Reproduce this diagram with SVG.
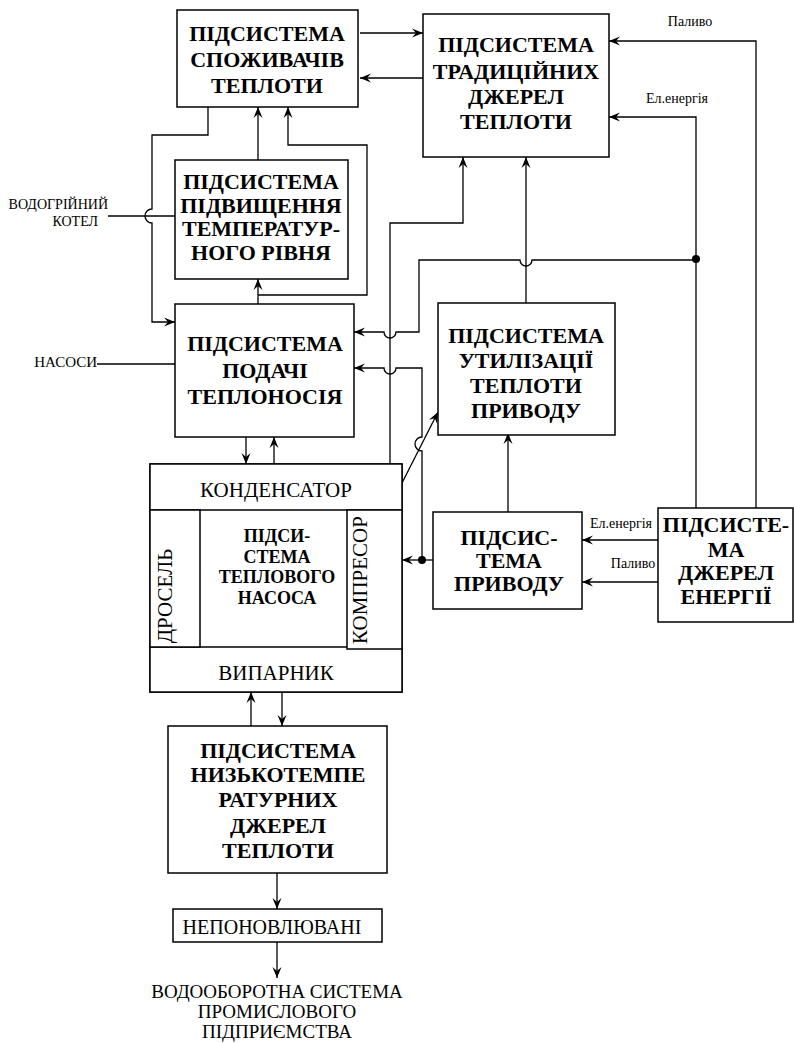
<svg xmlns="http://www.w3.org/2000/svg" width="794" height="1043" viewBox="0 0 794 1043" lang="uk">
<defs>
<marker id="ah" markerUnits="userSpaceOnUse" markerWidth="14" markerHeight="12" viewBox="-12 -6 14 12" refX="0" refY="0" orient="auto">
<path d="M0,0 L-11,-4.5 L-7,0 L-11,4.5 Z" fill="#000"/>
</marker>
</defs>
<rect width="794" height="1043" fill="#fff"/>

<g id="connectors" fill="none" stroke="#000" stroke-width="1.3">
<path marker-end="url(#ah)" d="M360,33 H423"/>
<path marker-end="url(#ah)" d="M423,78 H360"/>
<path marker-end="url(#ah)" d="M208,107 V135 H152 V209 A7,7 0 0 0 152,223 V322 H175"/>
<path d="M108,216 H175"/>
<path d="M97,364 H175"/>
<path marker-end="url(#ah)" d="M258,160 V107"/>
<path marker-end="url(#ah)" d="M258,304 V279"/>
<path marker-end="url(#ah)" d="M258,295 H367 V145 H288 V107"/>
<path marker-end="url(#ah)" d="M390,463 V223 H463 V157"/>
<path marker-end="url(#ah)" d="M696,260 H532 A6,6 0 0 1 520,260 H419 V332 H396 A6,6 0 0 1 384,332 H354"/>
<path marker-end="url(#ah)" d="M526,303 V157"/>
<path marker-end="url(#ah)" d="M696,508 V117 H609"/>
<path marker-end="url(#ah)" d="M756,508 V41 H609"/>
<path marker-end="url(#ah)" d="M433,560 H402"/>
<path marker-end="url(#ah)" d="M422,560 V451 A7,7 0 0 1 422,437 V368 H396 A6,6 0 0 1 384,368 H354"/>
<path marker-end="url(#ah)" d="M402,483 L438,412"/>
<path marker-end="url(#ah)" d="M508,512 V433"/>
<path marker-end="url(#ah)" d="M658,540 H582"/>
<path marker-end="url(#ah)" d="M658,582 H582"/>
<path marker-end="url(#ah)" d="M246,437 V464"/>
<path marker-end="url(#ah)" d="M274,464 V437"/>
<path marker-end="url(#ah)" d="M251,726 V692"/>
<path marker-end="url(#ah)" d="M282,692 V726"/>
<path marker-end="url(#ah)" d="M277,873 V909"/>
<path marker-end="url(#ah)" d="M277,942 V978"/>
<circle cx="696" cy="259" r="4" fill="#000" stroke="none"/>
<circle cx="422" cy="560" r="4" fill="#000" stroke="none"/>
</g>

<g id="labels">
<text font-family="'Liberation Serif', 'Noto Sans CJK SC', serif" font-size="14" x="690" y="26" text-anchor="middle">Паливо</text>
<text font-family="'Liberation Serif', 'Noto Sans CJK SC', serif" font-size="14" x="677" y="103" text-anchor="middle">Ел.енергія</text>
<text font-family="'Liberation Serif', 'Noto Sans CJK SC', serif" font-size="14" x="621" y="528" text-anchor="middle">Ел.енергія</text>
<text font-family="'Liberation Serif', 'Noto Sans CJK SC', serif" font-size="14" x="633" y="568" text-anchor="middle">Паливо</text>
<text font-family="'Liberation Serif', 'Noto Sans CJK SC', serif" font-size="15" x="97" y="367" text-anchor="end">НАСОСИ</text>
<text font-family="'Liberation Serif', 'Noto Sans CJK SC', serif" font-size="14" x="108" y="209" text-anchor="end">ВОДОГРІЙНИЙ</text>
<text font-family="'Liberation Serif', 'Noto Sans CJK SC', serif" font-size="14" x="98" y="226" text-anchor="end">КОТЕЛ</text>
</g>

<g id="consumers">
<rect x="177" y="10" width="181" height="97" fill="#fff" stroke="#000" stroke-width="1.5"/>
<text font-family="'Liberation Serif', 'Noto Sans CJK SC', serif" font-weight="bold" font-size="22" text-anchor="middle" x="267" y="41">ПІДСИСТЕМА</text>
<text font-family="'Liberation Serif', 'Noto Sans CJK SC', serif" font-weight="bold" font-size="22" text-anchor="middle" x="267" y="67">СПОЖИВАЧІВ</text>
<text font-family="'Liberation Serif', 'Noto Sans CJK SC', serif" font-weight="bold" font-size="22" text-anchor="middle" x="267" y="93">ТЕПЛОТИ</text>
</g>

<g id="traditional">
<rect x="423" y="14" width="186" height="143" fill="#fff" stroke="#000" stroke-width="1.5"/>
<text font-family="'Liberation Serif', 'Noto Sans CJK SC', serif" font-weight="bold" font-size="22" text-anchor="middle" x="516" y="52">ПІДСИСТЕМА</text>
<text font-family="'Liberation Serif', 'Noto Sans CJK SC', serif" font-weight="bold" font-size="22" text-anchor="middle" x="516" y="79">ТРАДИЦІЙНИХ</text>
<text font-family="'Liberation Serif', 'Noto Sans CJK SC', serif" font-weight="bold" font-size="22" text-anchor="middle" x="516" y="104">ДЖЕРЕЛ</text>
<text font-family="'Liberation Serif', 'Noto Sans CJK SC', serif" font-weight="bold" font-size="22" text-anchor="middle" x="516" y="129">ТЕПЛОТИ</text>
</g>

<g id="raising">
<rect x="175" y="160" width="173" height="119" fill="#fff" stroke="#000" stroke-width="1.5"/>
<text font-family="'Liberation Serif', 'Noto Sans CJK SC', serif" font-weight="bold" font-size="22" text-anchor="middle" x="261" y="189">ПІДСИСТЕМА</text>
<text font-family="'Liberation Serif', 'Noto Sans CJK SC', serif" font-weight="bold" font-size="22" text-anchor="middle" x="261" y="213">ПІДВИЩЕННЯ</text>
<text font-family="'Liberation Serif', 'Noto Sans CJK SC', serif" font-weight="bold" font-size="22" text-anchor="middle" x="261" y="236">ТЕМПЕРАТУР-</text>
<text font-family="'Liberation Serif', 'Noto Sans CJK SC', serif" font-weight="bold" font-size="22" text-anchor="middle" x="261" y="260">НОГО РІВНЯ</text>
</g>

<g id="supply">
<rect x="175" y="304" width="179" height="133" fill="#fff" stroke="#000" stroke-width="1.5"/>
<text font-family="'Liberation Serif', 'Noto Sans CJK SC', serif" font-weight="bold" font-size="22" text-anchor="middle" x="265" y="351">ПІДСИСТЕМА</text>
<text font-family="'Liberation Serif', 'Noto Sans CJK SC', serif" font-weight="bold" font-size="22" text-anchor="middle" x="265" y="378">ПОДАЧІ</text>
<text font-family="'Liberation Serif', 'Noto Sans CJK SC', serif" font-weight="bold" font-size="22" text-anchor="middle" x="265" y="404">ТЕПЛОНОСІЯ</text>
</g>

<g id="utilization">
<rect x="438" y="303" width="177" height="132" fill="#fff" stroke="#000" stroke-width="1.5"/>
<text font-family="'Liberation Serif', 'Noto Sans CJK SC', serif" font-weight="bold" font-size="22" text-anchor="middle" x="526" y="343">ПІДСИСТЕМА</text>
<text font-family="'Liberation Serif', 'Noto Sans CJK SC', serif" font-weight="bold" font-size="22" text-anchor="middle" x="526" y="368">УТИЛІЗАЦІЇ</text>
<text font-family="'Liberation Serif', 'Noto Sans CJK SC', serif" font-weight="bold" font-size="22" text-anchor="middle" x="526" y="393">ТЕПЛОТИ</text>
<text font-family="'Liberation Serif', 'Noto Sans CJK SC', serif" font-weight="bold" font-size="22" text-anchor="middle" x="526" y="418">ПРИВОДУ</text>
</g>

<g id="heatpump">
<rect x="150" y="464" width="252" height="228" fill="#fff" stroke="#000" stroke-width="1.5"/>
<rect x="150" y="464" width="252" height="46" fill="#fff" stroke="#000" stroke-width="1.5"/>
<text font-family="'Liberation Serif', 'Noto Sans CJK SC', serif" font-size="21" text-anchor="middle" x="276" y="497">КОНДЕНСАТОР</text>
<rect x="150" y="647" width="252" height="45" fill="#fff" stroke="#000" stroke-width="1.5"/>
<text font-family="'Liberation Serif', 'Noto Sans CJK SC', serif" font-size="21" text-anchor="middle" x="276" y="680">ВИПАРНИК</text>
<rect x="150" y="510" width="50" height="137" fill="#fff" stroke="#000" stroke-width="1.5"/>
<text font-family="'Liberation Serif', 'Noto Sans CJK SC', serif" font-size="21" text-anchor="middle" transform="translate(172,596) rotate(-90)">ДРОСЕЛЬ</text>
<rect x="347" y="510" width="55" height="139" fill="#fff" stroke="#000" stroke-width="1.5"/>
<text font-family="'Liberation Serif', 'Noto Sans CJK SC', serif" font-size="21" text-anchor="middle" transform="translate(367,580) rotate(-90)">КОМПРЕСОР</text>
<text font-family="'Liberation Serif', 'Noto Sans CJK SC', serif" font-weight="bold" font-size="18" text-anchor="middle" x="277" y="542">ПІДСИ-</text>
<text font-family="'Liberation Serif', 'Noto Sans CJK SC', serif" font-weight="bold" font-size="18" text-anchor="middle" x="277" y="563">СТЕМА</text>
<text font-family="'Liberation Serif', 'Noto Sans CJK SC', serif" font-weight="bold" font-size="18" text-anchor="middle" x="277" y="583">ТЕПЛОВОГО</text>
<text font-family="'Liberation Serif', 'Noto Sans CJK SC', serif" font-weight="bold" font-size="18" text-anchor="middle" x="277" y="604">НАСОСА</text>
</g>

<g id="drive">
<rect x="433" y="512" width="149" height="97" fill="#fff" stroke="#000" stroke-width="1.5"/>
<text font-family="'Liberation Serif', 'Noto Sans CJK SC', serif" font-weight="bold" font-size="22" text-anchor="middle" x="509" y="545">ПІДСИС-</text>
<text font-family="'Liberation Serif', 'Noto Sans CJK SC', serif" font-weight="bold" font-size="22" text-anchor="middle" x="509" y="568">ТЕМА</text>
<text font-family="'Liberation Serif', 'Noto Sans CJK SC', serif" font-weight="bold" font-size="22" text-anchor="middle" x="509" y="591">ПРИВОДУ</text>
</g>

<g id="energy">
<rect x="658" y="508" width="135" height="114" fill="#fff" stroke="#000" stroke-width="1.5"/>
<text font-family="'Liberation Serif', 'Noto Sans CJK SC', serif" font-weight="bold" font-size="22" text-anchor="middle" x="726" y="532">ПІДСИСТЕ-</text>
<text font-family="'Liberation Serif', 'Noto Sans CJK SC', serif" font-weight="bold" font-size="22" text-anchor="middle" x="726" y="557">МА</text>
<text font-family="'Liberation Serif', 'Noto Sans CJK SC', serif" font-weight="bold" font-size="22" text-anchor="middle" x="726" y="580">ДЖЕРЕЛ</text>
<text font-family="'Liberation Serif', 'Noto Sans CJK SC', serif" font-weight="bold" font-size="22" text-anchor="middle" x="726" y="604">ЕНЕРГІЇ</text>
</g>

<g id="lowtemp">
<rect x="168" y="726" width="219" height="147" fill="#fff" stroke="#000" stroke-width="1.5"/>
<text font-family="'Liberation Serif', 'Noto Sans CJK SC', serif" font-weight="bold" font-size="22" text-anchor="middle" x="278" y="758">ПІДСИСТЕМА</text>
<text font-family="'Liberation Serif', 'Noto Sans CJK SC', serif" font-weight="bold" font-size="22" text-anchor="middle" x="278" y="782">НИЗЬКОТЕМПЕ</text>
<text font-family="'Liberation Serif', 'Noto Sans CJK SC', serif" font-weight="bold" font-size="22" text-anchor="middle" x="278" y="807">РАТУРНИХ</text>
<text font-family="'Liberation Serif', 'Noto Sans CJK SC', serif" font-weight="bold" font-size="22" text-anchor="middle" x="278" y="833">ДЖЕРЕЛ</text>
<text font-family="'Liberation Serif', 'Noto Sans CJK SC', serif" font-weight="bold" font-size="22" text-anchor="middle" x="278" y="858">ТЕПЛОТИ</text>
</g>

<g id="nonrenewable">
<rect x="173" y="909" width="209" height="33" fill="#fff" stroke="#000" stroke-width="1.5"/>
<text font-family="'Liberation Serif', 'Noto Sans CJK SC', serif" font-size="20" text-anchor="middle" x="272" y="934">НЕПОНОВЛЮВАНІ</text>
</g>

<g id="water">
<text font-family="'Liberation Serif', 'Noto Sans CJK SC', serif" font-size="19" text-anchor="middle" x="277" y="998">ВОДООБОРОТНА СИСТЕМА</text>
<text font-family="'Liberation Serif', 'Noto Sans CJK SC', serif" font-size="19" text-anchor="middle" x="277" y="1018">ПРОМИСЛОВОГО</text>
<text font-family="'Liberation Serif', 'Noto Sans CJK SC', serif" font-size="19" text-anchor="middle" x="277" y="1038">ПІДПРИЄМСТВА</text>
</g>
</svg>
